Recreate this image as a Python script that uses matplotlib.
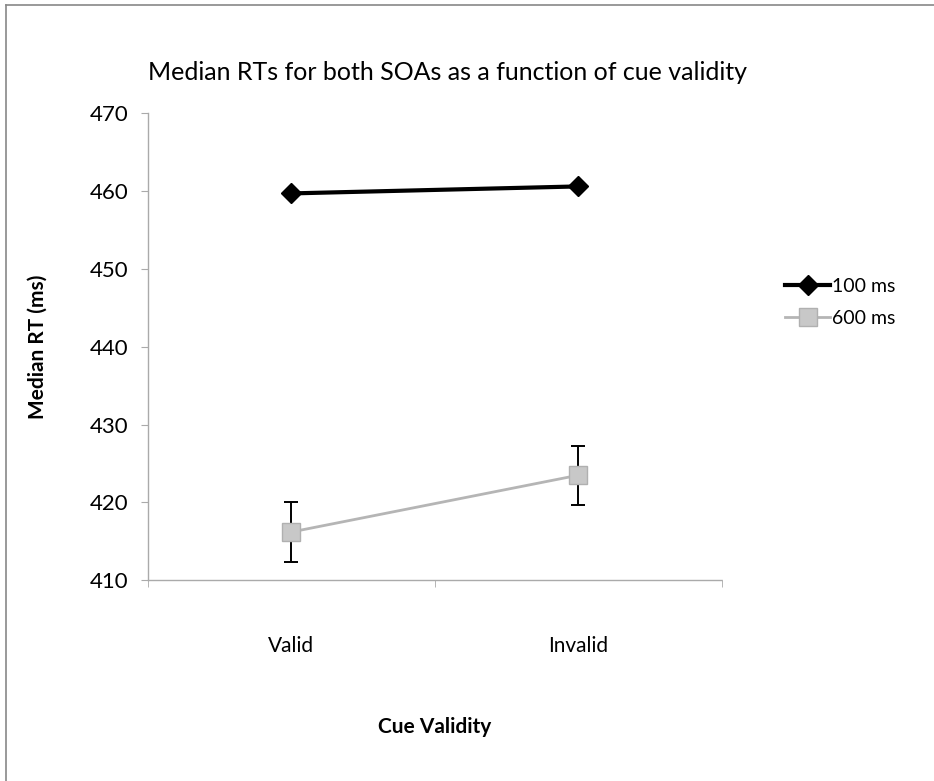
#!/usr/bin/env python3

import matplotlib
matplotlib.use("Agg")
import matplotlib.pyplot as plt
from matplotlib.lines import Line2D

plt.rcParams["font.family"] = ["Lato", "DejaVu Sans"]

categories = ["Valid", "Invalid"]
rt_100 = [459.7, 460.6]
rt_600 = [416.2, 423.5]
err_600 = [3.8, 3.8]
y_ticks = [410, 420, 430, 440, 450, 460, 470]

fig = plt.figure(figsize=(9.34, 7.81), dpi=100)
ax = fig.add_axes([0.158, 0.257, 0.615, 0.598])

x = list(range(len(categories)))

ax.plot(x, rt_100, color="black", linewidth=3, marker="D", markersize=10,
        zorder=4, label="100 ms")
ax.errorbar(x, rt_600, yerr=err_600, fmt="none", ecolor="black",
            elinewidth=1.4, capsize=5, capthick=1.4, zorder=3)
ax.plot(x, rt_600, color="#b5b5b5", linewidth=2, marker="s", markersize=13,
        markerfacecolor="#c8c8c8", markeredgecolor="#b0b0b0", zorder=3,
        label="600 ms")

ax.set_xlim(-0.5, 1.5)
ax.set_ylim(410, 470)
ax.set_yticks(y_ticks)
ax.set_xticks(x)
ax.set_xticklabels(categories)
ax.set_xticks([-0.5, 0.5, 1.5], minor=True)
ax.tick_params(axis="x", which="major", length=0, pad=40, labelsize=15)
ax.tick_params(axis="x", which="minor", length=5, color="#aaaaaa", direction="out")
ax.tick_params(axis="y", length=5, color="#aaaaaa", direction="out",
               pad=9, labelsize=16)

for side in ("top", "right"):
    ax.spines[side].set_visible(False)
for side in ("left", "bottom"):
    ax.spines[side].set_color("#aaaaaa")
    ax.spines[side].set_linewidth(1)
    ax.spines[side].set_linestyle((0, (1, 1)))

ax.set_title("Median RTs for both SOAs as a function of cue validity",
             fontsize=18, loc="left", x=0.0, pad=24)
ax.set_ylabel("Median RT (ms)", fontsize=15, fontweight="bold", labelpad=30)
ax.set_xlabel("Cue Validity", fontsize=15, fontweight="bold", labelpad=44)

ax.legend(loc="center left", bbox_to_anchor=(1.08, 0.595), frameon=False,
          fontsize=14, handlelength=2.3, handletextpad=0.1, labelspacing=0.75)

# page frame, left and top edges like the scanned original
fig.add_artist(Line2D([0.006, 0.006], [0.0, 0.994], transform=fig.transFigure,
                      color="#888888", linewidth=1.2))
fig.add_artist(Line2D([0.006, 1.0], [0.994, 0.994], transform=fig.transFigure,
                      color="#888888", linewidth=1.2))

fig.savefig("out.png", dpi=100)
plt.close(fig)
